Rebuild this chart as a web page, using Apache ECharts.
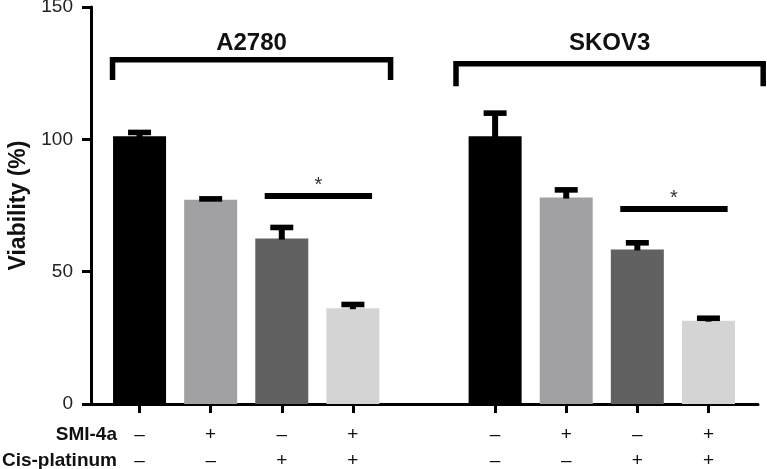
<!DOCTYPE html>
<html>
<head>
<meta charset="utf-8">
<script src="https://cdn.jsdelivr.net/npm/echarts@6/dist/echarts.min.js"></script>
<style>
html,body{margin:0;padding:0;background:#fff;}
#chart{width:767px;height:469px;}
</style>
</head>
<body>
<div id="chart"></div>
<script>
// ---- data ----
var categories = ['A2780 ctrl','A2780 SMI-4a','A2780 Cis','A2780 SMI-4a+Cis','', 'SKOV3 ctrl','SKOV3 SMI-4a','SKOV3 Cis','SKOV3 SMI-4a+Cis'];
var smiSigns = ['–','+','–','+','','–','+','–','+'];
var cisSigns = ['–','–','+','+','','–','–','+','+'];
var a2780Mean = [101.2, 77.2, 62.5, 36.2];
var a2780Err  = [1.4, 0.3, 4.2, 1.4];
var skov3Mean = [101.2, 78, 58.4, 31.5];
var skov3Err  = [8.7, 2.9, 2.5, 0.9];
var yTicks = [0, 50, 100, 150];
var groupNames = ['A2780', 'SKOV3'];
var bracketFrom = [-0.38, 4.45];
var bracketTo = [3.53, 8.77];
var bracketLevel = [130.1, 128.6];
var bracketLegEnd = [122.4, 120.1];
var bracketLabelLevel = [136.4, 136.4];
var sigFrom = [1.76, 6.76];
var sigTo = [3.27, 8.27];
var sigLevel = [78.6, 73.7];
var sigMark = ['*', '*'];
var rowLabels = ['SMI-4a', 'Cis-platinum'];

var barColors = ['#000000', '#a1a1a4', '#616161', '#d4d4d4'];
var FONT = '"Liberation Sans", Arial, Helvetica, sans-serif';

var means = a2780Mean.concat(['-']).concat(skov3Mean);
var errs = a2780Err.concat([null]).concat(skov3Err);

var barData = means.map(function (v, i) {
  var ci = i < 4 ? i : i - 5;
  return { value: v, itemStyle: { color: ci >= 0 ? barColors[ci] : 'transparent' } };
});
var errData = [];
means.forEach(function (v, i) { if (v !== '-') errData.push([i, v, errs[i]]); });

var bracketData = groupNames.map(function (n, i) {
  return [bracketFrom[i], bracketTo[i], bracketLevel[i], bracketLegEnd[i], bracketLabelLevel[i], n];
});
var sigData = sigFrom.map(function (f, i) { return [f, sigTo[i], sigLevel[i], sigMark[i]]; });

function xOf(api, v) {
  var base = api.coord([0, 0])[0];
  var band = api.size([1, 0])[0];
  return base + v * band;
}

var chart = echarts.init(document.getElementById('chart'), null, { renderer: 'canvas' });
var option = {
  animation: false,
  backgroundColor: '#ffffff',
  grid: [
    { left: 91, right: 9, top: 7, bottom: 65, containLabel: false, outerBoundsMode: 'none' },
    { left: 104, right: 23, top: 7, bottom: 65, containLabel: false, outerBoundsMode: 'none' }
  ],
  xAxis: [
    { gridIndex: 0, type: 'value', min: 0, max: 1,
      axisLine: { show: true, lineStyle: { color: '#000', width: 3 } },
      axisTick: { show: false }, axisLabel: { show: false }, splitLine: { show: false } },
    { gridIndex: 1, type: 'category', data: categories,
      axisLine: { show: false },
      axisTick: { show: true, alignWithLabel: true, length: 9,
        interval: function (idx, val) { return val !== ''; },
        lineStyle: { color: '#000', width: 3 } },
      axisLabel: { show: true, interval: 0, margin: 18, fontFamily: FONT, fontSize: 19,
        lineHeight: 26, color: '#111',
        formatter: function (val, idx) { return smiSigns[idx] + '\n' + cisSigns[idx]; } },
      splitLine: { show: false } }
  ],
  yAxis: [
    { gridIndex: 0, type: 'value', min: yTicks[0], max: yTicks[yTicks.length - 1], interval: 50,
      name: 'Viability (%)', nameLocation: 'middle', nameGap: 61, nameRotate: 90,
      nameTextStyle: { fontFamily: FONT, fontSize: 23, fontWeight: 'bold', color: '#111' },
      axisLine: { show: true, lineStyle: { color: '#000', width: 3 } },
      axisTick: { show: true, length: 9, lineStyle: { color: '#000', width: 3 } },
      axisLabel: { margin: 18, fontFamily: FONT, fontSize: 19, color: '#222' },
      splitLine: { show: false } },
    { gridIndex: 1, type: 'value', min: 0, max: 150, show: false }
  ],
  graphic: [
    { type: 'text', right: 767 - 117, top: 425, style: { text: rowLabels[0], font: 'bold 19px ' + FONT, fill: '#111', textAlign: 'right' } },
    { type: 'text', right: 767 - 117, top: 451, style: { text: rowLabels[1], font: 'bold 19px ' + FONT, fill: '#111', textAlign: 'right' } }
  ],
  series: [
    { type: 'bar', xAxisIndex: 1, yAxisIndex: 1, data: barData, barWidth: 53, z: 1 },
    { type: 'custom', xAxisIndex: 1, yAxisIndex: 1, data: errData, z: 3,
      renderItem: function (params, api) {
        var i = api.value(0), m = api.value(1), e = api.value(2);
        var top = api.coord([i, m + e]);
        var base = api.coord([i, m]);
        return { type: 'group', children: [
          { type: 'rect', shape: { x: top[0] - 3, y: top[1], width: 6, height: Math.max(base[1] - top[1], 0) + 1 }, style: { fill: '#000' } },
          { type: 'rect', shape: { x: top[0] - 11.5, y: top[1] - 2.8, width: 23, height: 5.6 }, style: { fill: '#000' } }
        ] };
      } },
    { type: 'custom', xAxisIndex: 1, yAxisIndex: 1, data: bracketData, z: 3,
      renderItem: function (params, api) {
        var d = bracketData[params.dataIndex];
        var x1 = xOf(api, d[0]), x2 = xOf(api, d[1]);
        var y = api.coord([0, d[2]])[1], yl = api.coord([0, d[3]])[1], yt = api.coord([0, d[4]])[1];
        return { type: 'group', children: [
          { type: 'polyline', shape: { points: [[x1, yl], [x1, y], [x2, y], [x2, yl]] },
            style: { stroke: '#000', lineWidth: 5.5, fill: null, lineJoin: 'miter' } },
          { type: 'text', style: { text: d[5], x: (x1 + x2) / 2, y: yt, textAlign: 'center', textVerticalAlign: 'middle',
            font: 'bold 24px ' + FONT, fill: '#111' } }
        ] };
      } },
    { type: 'custom', xAxisIndex: 1, yAxisIndex: 1, data: sigData, z: 3,
      renderItem: function (params, api) {
        var d = sigData[params.dataIndex];
        var x1 = xOf(api, d[0]), x2 = xOf(api, d[1]);
        var y = api.coord([0, d[2]])[1];
        return { type: 'group', children: [
          { type: 'line', shape: { x1: x1, y1: y, x2: x2, y2: y }, style: { stroke: '#000', lineWidth: 6 } },
          { type: 'text', style: { text: d[3], x: (x1 + x2) / 2, y: y - 10, textAlign: 'center', textVerticalAlign: 'middle',
            font: '20px ' + FONT, fill: '#333' } }
        ] };
      } }
  ]
};
chart.setOption(option);
</script>
</body>
</html>
